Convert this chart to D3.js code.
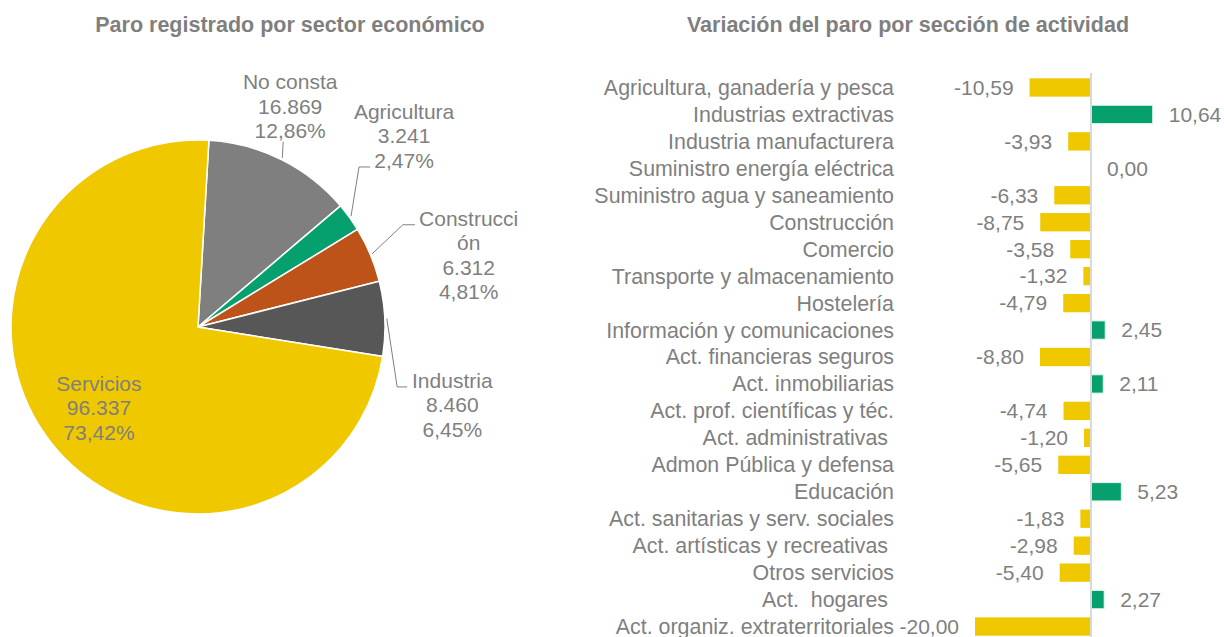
<!DOCTYPE html>
<html>
<head>
<meta charset="utf-8">
<script src="https://cdn.jsdelivr.net/npm/d3@7"></script>
<style>
  body { margin: 0; background: #fff; }
  svg { display: block; font-family: "Liberation Sans", Arial, sans-serif; }
  text { white-space: pre; }
</style>
</head>
<body>
<div id="chart"></div>
<script>
// pie: paro registrado por sector
const sectors = ["No consta", "Agricultura", "Construcción", "Industria", "Servicios"];
const sectorValues = [16869, 3241, 6312, 8460, 96337];
const sectorColors = ["#7f7f7f", "#05a06e", "#bd5318", "#575757", "#f0c800"];

// bars: variacion por seccion de actividad
const sections = [
  "Agricultura, ganadería y pesca",
  "Industrias extractivas",
  "Industria manufacturera",
  "Suministro energía eléctrica",
  "Suministro agua y saneamiento",
  "Construcción",
  "Comercio",
  "Transporte y almacenamiento",
  "Hostelería",
  "Información y comunicaciones",
  "Act. financieras seguros",
  "Act. inmobiliarias",
  "Act. prof. científicas y téc.",
  "Act. administrativas ",
  "Admon Pública y defensa",
  "Educación",
  "Act. sanitarias y serv. sociales",
  "Act. artísticas y recreativas ",
  "Otros servicios",
  "Act.  hogares ",
  "Act. organiz. extraterritoriales"
];
const variation = [-10.59, 10.64, -3.93, 0.00, -6.33, -8.75, -3.58, -1.32, -4.79, 2.45,
  -8.80, 2.11, -4.74, -1.20, -5.65, 5.23, -1.83, -2.98, -5.40, 2.27, -20.00];

const W = 1224, H = 637;
const textCol = "#7f7f7f";
const es = d3.formatLocale({ decimal: ",", thousands: ".", grouping: [3], currency: ["", "€"], minus: "-" });
const fmtInt = es.format(",d");
const fmtPct = es.format(".2f");
const fmtVar = es.format(".2f");

const svg = d3.select("#chart").append("svg")
  .attr("width", W)
  .attr("height", H);

svg.append("rect").attr("width", W).attr("height", H).attr("fill", "#fff");

// titles
svg.append("text")
  .attr("x", 290).attr("y", 32)
  .attr("text-anchor", "middle")
  .attr("font-size", "21.5px").attr("font-weight", "700")
  .attr("fill", textCol)
  .text("Paro registrado por sector económico");

svg.append("text")
  .attr("x", 908).attr("y", 32)
  .attr("text-anchor", "middle")
  .attr("font-size", "21.5px").attr("font-weight", "700")
  .attr("fill", textCol)
  .text("Variación del paro por sección de actividad");

// ---- pie ----
const cx = 198, cy = 327, R = 187;
const total = d3.sum(sectorValues);
const start = 3.35 * Math.PI / 180;

const pie = d3.pie().sort(null).startAngle(start).endAngle(start + 2 * Math.PI);
const arcs = pie(sectorValues);
const arc = d3.arc().innerRadius(0).outerRadius(R);

const pieG = svg.append("g").attr("transform", `translate(${cx},${cy})`);

pieG.selectAll("path")
  .data(arcs)
  .enter()
  .append("path")
  .attr("d", arc)
  .attr("fill", (d, i) => sectorColors[i])
  .attr("stroke", "#fff")
  .attr("stroke-width", 1.5);

// label placement: angle shift (deg) from slice middle and radius
const labelPlace = [
  { da: -3.8, r: 239, lines: ["No consta"], leader: { da: -1.8, r: 204, run: 0 } },
  { da: -6.9, r: 281, lines: ["Agricultura"], leader: { da: -8.9, r: 227, run: 11 } },
  { da: 8.0, r: 280, lines: ["Construcci", "ón"], leader: { da: -3.7, r: 229, run: 12 } },
  { da: 19.6, r: 266, lines: ["Industria"], leader: { da: 19.3, r: 208, run: 10 } },
  { da: -0.5, r: 128, lines: ["Servicios"], leader: null }
];

const polar = (a, r) => [Math.sin(a) * r, -Math.cos(a) * r];
const deg = Math.PI / 180;
const lh = 24.5;

arcs.forEach((d, i) => {
  const p = labelPlace[i];
  const mid = (d.startAngle + d.endAngle) / 2;

  if (p.leader) {
    const s = polar(mid, R + 2);
    const e = polar(mid + p.leader.da * deg, p.leader.r);
    const pts = [s, e];
    if (p.leader.run) pts.push([e[0] + p.leader.run, e[1]]);
    pieG.append("path")
      .attr("d", d3.line()(pts))
      .attr("fill", "none")
      .attr("stroke", "#808080")
      .attr("stroke-width", 1);
  }

  const c = polar(mid + p.da * deg, p.r);
  const lines = p.lines.concat([fmtInt(sectorValues[i]), fmtPct(sectorValues[i] / total * 100) + "%"]);
  const t = pieG.append("text")
    .attr("text-anchor", "middle")
    .attr("font-size", "21px")
    .attr("fill", textCol);
  t.selectAll("tspan")
    .data(lines)
    .enter()
    .append("tspan")
    .attr("x", c[0])
    .attr("y", (l, j) => c[1] + (j - (lines.length - 1) / 2) * lh)
    .attr("dy", "0.35em")
    .text(l => l);
});

// ---- bars ----
const x = d3.scaleLinear().domain([-20, 15]).range([975, 1178]);
const y = d3.scaleBand()
  .domain(sections)
  .range([74, 640])
  .paddingInner(0.32)
  .paddingOuter(0.16);

const barG = svg.append("g");

barG.selectAll("rect")
  .data(variation)
  .enter()
  .append("rect")
  .attr("x", d => x(Math.min(0, d)))
  .attr("y", (d, i) => y(sections[i]))
  .attr("width", d => Math.abs(x(d) - x(0)))
  .attr("height", y.bandwidth())
  .attr("fill", d => d < 0 ? "#f0c800" : "#05a06e")
  .attr("stroke", d => d > 0 ? "#e6f4ee" : "none")
  .attr("stroke-width", 1);

// zero axis
svg.append("line")
  .attr("x1", x(0)).attr("x2", x(0))
  .attr("y1", 73).attr("y2", H)
  .attr("stroke", "#d9d9d9")
  .attr("stroke-width", 2);

// category labels
barG.selectAll(".cat")
  .data(sections)
  .enter()
  .append("text")
  .attr("class", "cat")
  .attr("x", 894)
  .attr("y", d => y(d) + y.bandwidth() / 2)
  .attr("dy", "0.35em")
  .attr("text-anchor", "end")
  .attr("font-size", "21.4px")
  .attr("fill", textCol)
  .text(d => d);

// value labels
barG.selectAll(".val")
  .data(variation)
  .enter()
  .append("text")
  .attr("class", "val")
  .attr("x", d => d < 0 ? x(d) - 16 : x(d) + 16)
  .attr("y", (d, i) => y(sections[i]) + y.bandwidth() / 2)
  .attr("dy", "0.35em")
  .attr("text-anchor", d => d < 0 ? "end" : "start")
  .attr("font-size", "21px")
  .attr("fill", textCol)
  .text(d => fmtVar(d));
</script>
</body>
</html>
